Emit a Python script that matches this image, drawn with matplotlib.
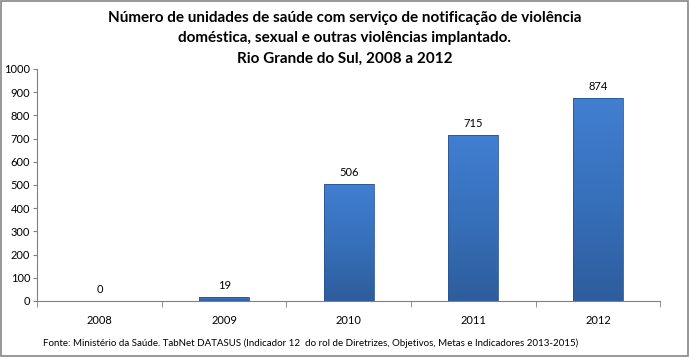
import matplotlib.pyplot as plt
import numpy as np
from matplotlib.colors import LinearSegmentedColormap

plt.rcParams['font.family'] = ['Lato', 'DejaVu Sans']

anos = ['2008', '2009', '2010', '2011', '2012']
unidades = [0, 19, 506, 715, 874]

fig = plt.figure(figsize=(6.9, 3.57), dpi=100)
ax = fig.add_axes([0.054, 0.157, 0.903, 0.65])

x = np.arange(len(anos))
bars = ax.bar(x, unidades, width=0.4, color='#3a70bd', edgecolor='#2a5590', linewidth=0.6, zorder=2)

# gradiente vertical dentro de cada barra
cmap = LinearSegmentedColormap.from_list('azul', ['#2d5d9c', '#3770bb', '#417fd0'])
grad = np.linspace(0, 1, 256).reshape(-1, 1)
for b in bars:
    h = b.get_height()
    if h <= 0:
        continue
    im = ax.imshow(grad, cmap=cmap, origin='lower', aspect='auto',
                   extent=[b.get_x(), b.get_x() + b.get_width(), 0, h], zorder=2)
    im.set_clip_path(b)
    b.set_facecolor('none')
    b.set_zorder(3)

for xi, v in zip(x, unidades):
    ax.text(xi, v + 25, str(v), ha='center', va='bottom', fontsize=8)

ax.set_xlim(-0.5, len(anos) - 0.5)
ax.set_ylim(0, 1000)
ax.set_yticks(range(0, 1001, 100))
ax.tick_params(axis='y', labelsize=8, length=3, color='#808080', pad=2)
ax.set_xticks(x)
ax.set_xticklabels(anos, fontsize=8)
ax.set_xticks(np.arange(-0.5, len(anos)), minor=True)
ax.tick_params(axis='x', which='major', length=0, pad=10)
ax.tick_params(axis='x', which='minor', length=4, color='#808080')

for s in ['top', 'right']:
    ax.spines[s].set_visible(False)
for s in ['left', 'bottom']:
    ax.spines[s].set_color('#808080')

fig.text(0.5, 0.97,
         'Número de unidades de saúde com serviço de notificação de violência\n'
         'doméstica, sexual e outras violências implantado.\n'
         'Rio Grande do Sul, 2008 a 2012',
         ha='center', va='top', fontsize=11, fontweight='bold', linespacing=1.6)

fig.text(0.063, 0.025,
         'Fonte: Ministério da Saúde. TabNet DATASUS (Indicador 12  do rol de Diretrizes, Objetivos, Metas e Indicadores 2013-2015)',
         ha='left', va='bottom', fontsize=7)

fig.patches.append(plt.Rectangle((0.002, 0.003), 0.995, 0.993, transform=fig.transFigure,
                                 fill=False, edgecolor='#868686', linewidth=1.2))

fig.savefig('out.png', dpi=100)
